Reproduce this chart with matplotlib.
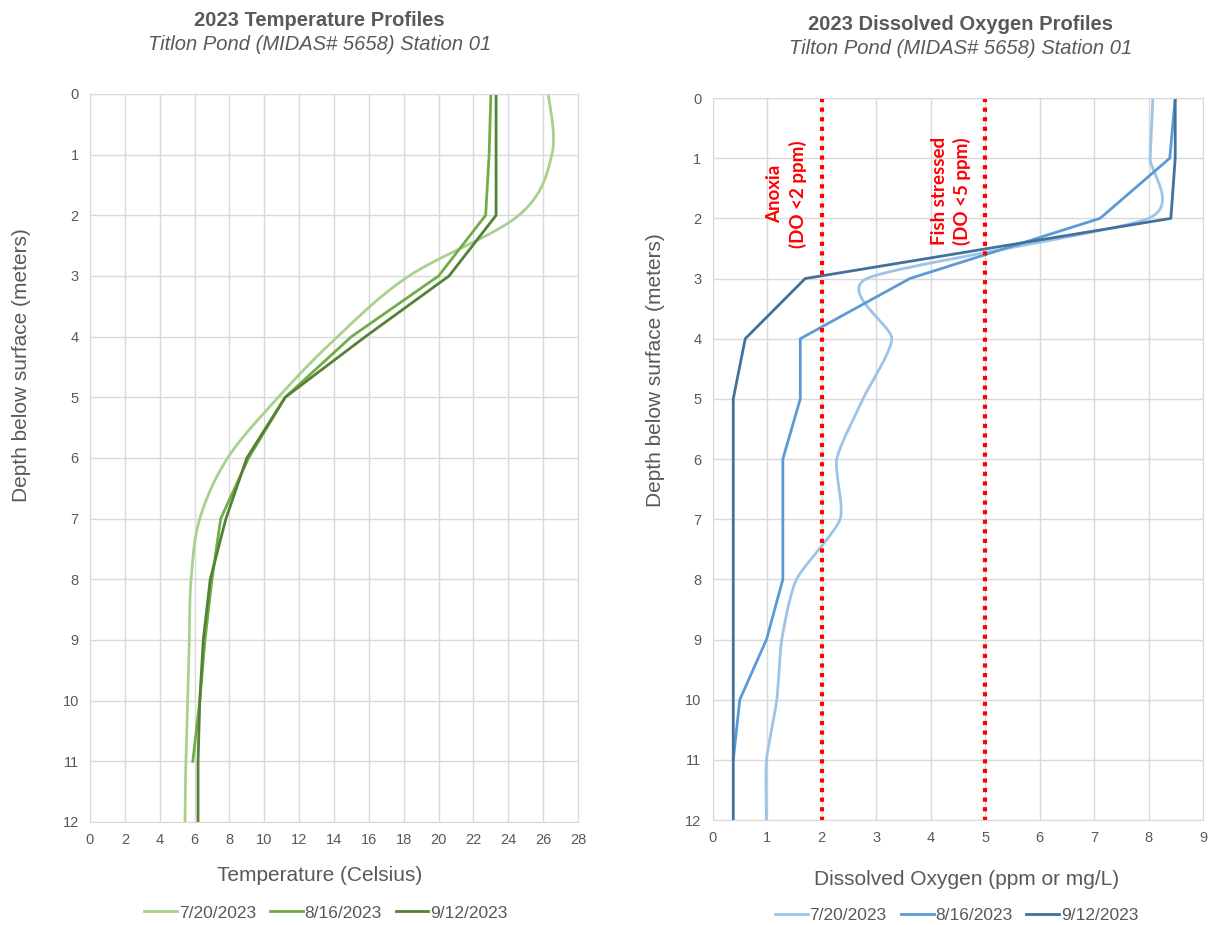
import numpy as np
import matplotlib.pyplot as plt

plt.rcParams['font.family'] = ['Liberation Sans', 'DejaVu Sans']

# depths (m)
depth = [0, 1, 2, 3, 4, 5, 6, 7, 8, 9, 10, 11, 12]
depth_aug = depth[:12]   # 8/16 profile stops at 11 m

# temperature (Celsius)
temp_0720 = [26.3, 26.5, 24.6, 18.3, 14.2, 10.8, 7.9, 6.3, 5.8, 5.7, 5.6, 5.5, 5.45]
temp_0816 = [23.0, 22.9, 22.7, 20.0, 15.0, 11.2, 9.1, 7.5, 7.0, 6.6, 6.3, 5.9]
temp_0912 = [23.3, 23.3, 23.3, 20.6, 15.8, 11.2, 9.0, 7.8, 6.9, 6.5, 6.3, 6.2, 6.2]

# dissolved oxygen (ppm)
do_0720 = [8.08, 8.03, 8.0, 2.83, 3.29, 2.76, 2.28, 2.34, 1.54, 1.27, 1.18, 0.99, 0.99]
do_0816 = [8.49, 8.39, 7.11, 3.62, 1.61, 1.61, 1.29, 1.29, 1.29, 0.99, 0.50, 0.38]
do_0912 = [8.49, 8.49, 8.41, 1.70, 0.60, 0.38, 0.38, 0.38, 0.38, 0.38, 0.38, 0.38, 0.38]

dates = ['7/20/2023', '8/16/2023', '9/12/2023']
greens = ['#a9d18e', '#70ad47', '#548235']
blues = ['#9dc3e6', '#5b9bd5', '#41719c']
txt = '#595959'
grid = '#d9d9d9'


def smooth(x, y, tension=0.0, n=24):
    # cardinal spline through the points, like Excel's "smoothed line"
    p = np.column_stack([x, y]).astype(float)
    q = np.vstack([p[0], p, p[-1]])
    m = (1 - tension) * (q[2:] - q[:-2]) / 2
    t = np.linspace(0, 1, n, endpoint=False)[:, None]
    h00 = 2 * t ** 3 - 3 * t ** 2 + 1
    h10 = t ** 3 - 2 * t ** 2 + t
    h01 = -2 * t ** 3 + 3 * t ** 2
    h11 = t ** 3 - t ** 2
    out = [h00 * p[i] + h10 * m[i] + h01 * p[i + 1] + h11 * m[i + 1] for i in range(len(p) - 1)]
    out.append(p[-1][None, :])
    out = np.vstack(out)
    return out[:, 0], out[:, 1]


fig = plt.figure(figsize=(12.11, 9.25), dpi=100)
ax1 = fig.add_axes([0.0743, 0.1114, 0.403, 0.787])
ax2 = fig.add_axes([0.5884, 0.1135, 0.405, 0.7805])

lw = 2.0
sx, sy = smooth(temp_0720, depth, tension=0.0)
ax1.plot(sx, sy, color=greens[0], lw=lw, label=dates[0])
ax1.plot(temp_0816, depth_aug, color=greens[1], lw=lw, label=dates[1])
ax1.plot(temp_0912, depth, color=greens[2], lw=lw, label=dates[2])
ax1.set_xlim(0, 28)
ax1.set_xticks(range(0, 29, 2))

sx, sy = smooth(do_0720, depth, tension=0.35)
ax2.plot(sx, sy, color=blues[0], lw=lw, label=dates[0])
ax2.plot(do_0816, depth_aug, color=blues[1], lw=lw, label=dates[1])
ax2.plot(do_0912, depth, color=blues[2], lw=lw, label=dates[2])
for v in [2, 5]:
    ax2.plot([v, v], [0, 12], color='red', lw=3, ls=(0, (1, 1.3)))
ax2.set_xlim(0, 9)
ax2.set_xticks(range(0, 10))
ax2.text(1.36, 1.6, 'Anoxia\n(DO <2 ppm)', rotation=90, color='red', fontweight='bold',
         fontsize=13.5, ha='center', va='center', linespacing=1.4, family=['Lato', 'DejaVu Sans'])
ax2.text(4.37, 1.55, 'Fish stressed\n(DO <5 ppm)', rotation=90, color='red', fontweight='bold',
         fontsize=13.5, ha='center', va='center', linespacing=1.35, family=['Lato', 'DejaVu Sans'])

for ax in (ax1, ax2):
    ax.set_ylim(12, 0)
    ax.set_yticks(range(0, 13))
    ax.grid(True, color=grid, lw=1)
    ax.set_axisbelow(True)
    ax.tick_params(length=0, labelsize=10.5, labelcolor=txt, pad=8)
    for s in ax.spines.values():
        s.set_color(grid)

fig.text(0.264, 0.978, '2023 Temperature Profiles', ha='center', va='center',
         fontsize=14.5, fontweight='bold', color=txt)
fig.text(0.264, 0.952, 'Titlon Pond (MIDAS# 5658) Station 01', ha='center', va='center',
         fontsize=14.5, style='italic', color=txt)
fig.text(0.793, 0.973, '2023 Dissolved Oxygen Profiles', ha='center', va='center',
         fontsize=14.5, fontweight='bold', color=txt)
fig.text(0.793, 0.948, 'Tilton Pond (MIDAS# 5658) Station 01', ha='center', va='center',
         fontsize=14.5, style='italic', color=txt)

fig.text(0.018, 0.605, 'Depth below surface (meters)', rotation=90, ha='center', va='center',
         fontsize=15, color=txt)
fig.text(0.541, 0.6, 'Depth below surface (meters)', rotation=90, ha='center', va='center',
         fontsize=15, color=txt)
fig.text(0.264, 0.054, 'Temperature (Celsius)', ha='center', va='center', fontsize=15, color=txt)
fig.text(0.7985, 0.049, 'Dissolved Oxygen (ppm or mg/L)', ha='center', va='center',
         fontsize=15, color=txt)

fig.legend(handles=ax1.get_lines(), loc='center', bbox_to_anchor=(0.269, 0.013), ncol=3,
           frameon=False, fontsize=12.5, handlelength=1.9, handletextpad=0.1, columnspacing=0.8,
           labelcolor=txt)
fig.legend(handles=ax2.get_lines()[:3], loc='center', bbox_to_anchor=(0.790, 0.01), ncol=3,
           frameon=False, fontsize=12.5, handlelength=1.9, handletextpad=0.1, columnspacing=0.8,
           labelcolor=txt)

fig.savefig('out.png', dpi=100)
